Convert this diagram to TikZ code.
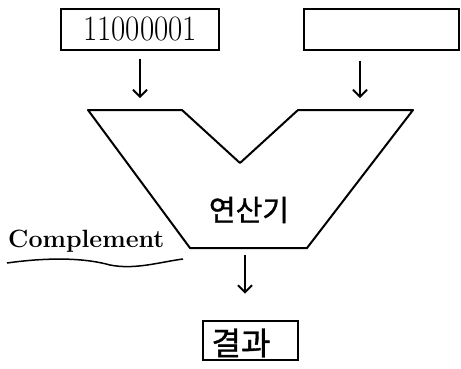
\documentclass[tikz,border=0pt]{standalone}
\usepackage{fontspec}
\newfontfamily\kofont[FakeBold=1.2]{Noto Sans CJK KR}
\usetikzlibrary{arrows.meta}

\tikzset{
  regbox/.style={draw, line width=2pt, inner sep=0pt, minimum height=41pt},
  flow/.style={line width=1.8pt, -{Straight Barb[length=7pt,width=14pt,line width=1.8pt]}}
}

\begin{document}
\begin{tikzpicture}[x=1pt,y=-1pt]
  \useasboundingbox (0,0) rectangle (461,368);
  \node [regbox, minimum width=158pt] (in1) at (140,29) {\scalebox{1}[1.15]{\fontsize{31}{31}\selectfont 11000001}};
  \node [regbox, minimum width=155pt] (in2) at (381,29) {};
  \coordinate (topL) at (140,110);
  \coordinate (topR) at (360,110);
  \coordinate (botC) at (245,248);
  \draw [black, line width=2pt, line join=round]
    (88,110) -- (182,110) -- (240,163) -- (298,110) -- (413,110)
    -- (307,248) -- (190,248) -- cycle;
  \node (alu) at (249,210) {\kofont\fontsize{29}{29}\selectfont 연산기};
  \node [anchor=base west, inner sep=0pt] (comp) at (8,247) {\fontsize{25}{25}\selectfont\bfseries Complement};
  \draw [black, line width=1.5pt] (7,263) .. controls (50,257) and (85,258) .. (110,265)
    .. controls (135,270) and (160,262) .. (183,259);
  \node [regbox, minimum width=95pt, minimum height=39pt] (res) at (250,340) {};
  \node (restxt) at (241,343) {\kofont\fontsize{32}{32}\selectfont 결과};
  \draw [flow, shorten <=8pt, shorten >=12pt] (in1) -- (topL);
  \draw [flow, shorten <=10pt, shorten >=12pt] (in2.south -| topR) -- (topR);
  \draw [flow, shorten <=7pt, shorten >=26pt] (botC) -- (botC |- res.north);
\end{tikzpicture}
\end{document}
